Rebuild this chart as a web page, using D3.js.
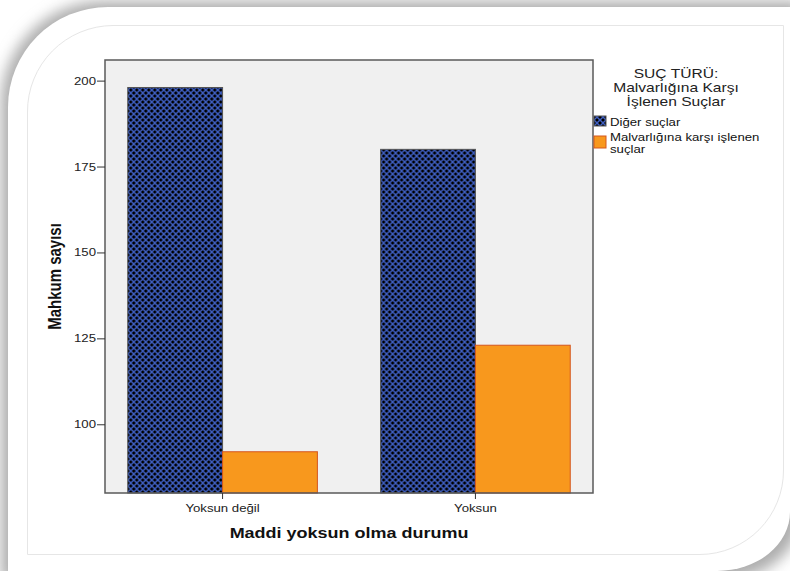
<!DOCTYPE html>
<html>
<head>
<meta charset="utf-8">
<script src="https://cdn.jsdelivr.net/npm/d3@7"></script>
<style>
  html, body { margin: 0; padding: 0; background: #ffffff; }
  svg { display: block; }
  text { font-family: "Liberation Sans", Arial, sans-serif; }
</style>
</head>
<body>
<svg id="chart" width="790" height="571"></svg>
<script>
// ---- data ----
const categories = ["Yoksun değil", "Yoksun"];
const seriesNames = ["Diğer suçlar", "Malvarlığına karşı işlenen suçlar"];
const digerValues = [198, 180];
const malvarligiValues = [92, 123];
const yTicks = [100, 125, 150, 175, 200];
const legendTitle = ["SUÇ TÜRÜ:", "Malvarlığına Karşı", "İşlenen Suçlar"];
const legendLabels = [["Diğer suçlar"], ["Malvarlığına karşı işlenen", "suçlar"]];
const xTitle = "Maddi yoksun olma durumu";
const yTitle = "Mahkum sayısı";

const seriesValues = [digerValues, malvarligiValues];
const SX = 1.2; // horizontal text stretch seen in the reference

const svg = d3.select("#chart");
const W = 790, H = 571;
const defs = svg.append("defs");

// ---- card background ----
const shadow = defs.append("filter").attr("id", "blur")
  .attr("x", "-20%").attr("y", "-20%").attr("width", "140%").attr("height", "140%");
shadow.append("feGaussianBlur").attr("stdDeviation", 7);

const cardPath = "M8,107 A100,100 0 0 1 108,7 L790,7 L790,512 A73,59 0 0 1 717,571 L8,571 Z";
svg.append("rect").attr("width", W).attr("height", H).attr("fill", "#ffffff");
svg.append("path")
  .attr("d", "M1,104 A103,103 0 0 1 104,1 L800,1 L800,512 A78,64 0 0 1 722,580 L1,580 Z")
  .attr("fill", "#adadad").attr("filter", "url(#blur)");
svg.append("path").attr("d", cardPath).attr("fill", "#ffffff");
svg.append("path")
  .attr("d", "M27.5,112 A86,86 0 0 1 113,25.5 L783.5,25.5 L783.5,470 A84,84 0 0 1 700,554.5 L27.5,554.5 Z")
  .attr("fill", "none").attr("stroke", "#e6e6e6").attr("stroke-width", 1);

// ---- pattern ----
const pat = defs.append("pattern").attr("id", "hatch")
  .attr("patternUnits", "userSpaceOnUse").attr("width", 6).attr("height", 6);
pat.append("rect").attr("width", 6).attr("height", 6).attr("fill", "#000000");
pat.append("path").attr("d", "M-1,-1 L7,7 M7,-1 L-1,7")
  .attr("stroke", "#3f5fc2").attr("stroke-width", 1.5).attr("fill", "none");

// ---- plot ----
const plot = { left: 105, top: 60, right: 593, bottom: 493 };
const y = d3.scaleLinear().domain([80, 206]).range([plot.bottom, plot.top]);
const x0 = d3.scaleBand().domain(categories).range([plot.left, plot.right])
  .paddingInner(0.25).paddingOuter(0.09);
const x1 = d3.scaleBand().domain(seriesNames).range([0, x0.bandwidth()]);

const fills = ["url(#hatch)", "#f8981d"];
const strokes = ["#555555", "#d4561e"];

svg.append("rect")
  .attr("x", plot.left).attr("y", plot.top)
  .attr("width", plot.right - plot.left).attr("height", plot.bottom - plot.top)
  .attr("fill", "#f0f0f0");

const groups = svg.append("g").selectAll("g").data(categories).join("g")
  .attr("transform", d => `translate(${x0(d)},0)`);
groups.selectAll("rect")
  .data((c, ci) => seriesNames.map((s, si) => ({ s, si, v: seriesValues[si][ci] })))
  .join("rect")
  .attr("x", d => x1(d.s))
  .attr("y", d => y(d.v))
  .attr("width", x1.bandwidth())
  .attr("height", d => plot.bottom - y(d.v))
  .attr("fill", d => fills[d.si])
  .attr("stroke", d => strokes[d.si])
  .attr("stroke-width", 1);

svg.append("rect")
  .attr("x", plot.left).attr("y", plot.top)
  .attr("width", plot.right - plot.left).attr("height", plot.bottom - plot.top)
  .attr("fill", "none").attr("stroke", "#5a5a5a").attr("stroke-width", 1.5);

// ---- axes ----
const yAxis = svg.append("g").attr("transform", `translate(${plot.left},0)`)
  .call(d3.axisLeft(y).tickValues(yTicks).tickSize(8).tickFormat(d3.format("d")));
yAxis.select(".domain").remove();
yAxis.selectAll("line").attr("stroke", "#333");
yAxis.selectAll("text")
  .attr("x", -9 / SX).attr("transform", `scale(${SX},1)`)
  .attr("font-size", 11).attr("fill", "#222")
  .style("font-family", '"Liberation Sans", Arial, sans-serif');

const xAxis = svg.append("g").attr("transform", `translate(0,${plot.bottom})`)
  .call(d3.axisBottom(x0).tickSize(6));
xAxis.select(".domain").remove();
xAxis.selectAll("line").attr("stroke", "#333");
xAxis.selectAll(".tick text")
  .attr("y", 19).attr("dy", 0)
  .attr("transform", `scale(${SX},1)`)
  .attr("font-size", 11).attr("fill", "#222")
  .style("font-family", '"Liberation Sans", Arial, sans-serif');

function stext(x, yy, str, size, weight, anchor, fill, rotate) {
  const g = svg.append("g").attr("transform", `translate(${x},${yy}) scale(${SX},1)` + (rotate ? ` rotate(${rotate})` : ""));
  return g.append("text").text(str)
    .attr("font-size", size).attr("font-weight", weight)
    .attr("text-anchor", anchor).attr("fill", fill);
}

stext((plot.left + plot.right) / 2, 538, xTitle, 15, "bold", "middle", "#111");
stext(61, (plot.top + plot.bottom) / 2, yTitle, 15, "bold", "middle", "#111", -90);

// ---- legend ----
legendTitle.forEach((t, i) => stext(676, 78 + i * 14, t, 13, "normal", "middle", "#222"));
const swY = [116, 136];
const swH = [10, 12];
seriesNames.forEach((s, i) => {
  svg.append("rect").attr("x", 594).attr("y", swY[i]).attr("width", 12).attr("height", swH[i])
    .attr("fill", fills[i]).attr("stroke", strokes[i]).attr("stroke-width", 1);
  legendLabels[i].forEach((line, j) =>
    stext(610, (i === 0 ? 126 : 140.5) + j * 12, line, 11, "normal", "start", "#111"));
});
</script>
</body>
</html>
